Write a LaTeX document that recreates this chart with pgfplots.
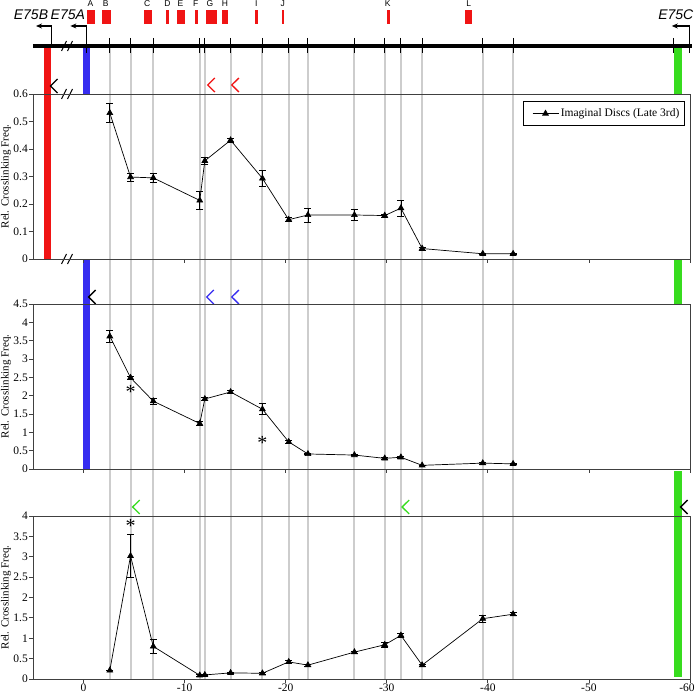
\documentclass[border=0pt]{standalone}
\usepackage{pgfplots}
\pgfplotsset{compat=1.18}
\usepackage{fontspec}
\setmainfont{Liberation Serif}
\newfontfamily\sans{Liberation Sans}
\usetikzlibrary{arrows.meta}

\definecolor{gbar}{RGB}{55,220,30}
\definecolor{bbar}{RGB}{55,45,240}
\definecolor{rbar}{RGB}{240,20,20}
\definecolor{gline}{RGB}{205,205,205}

% panel data: x (kb), relative crosslinking frequency, error
\pgfplotstableread{
x y e
-2.6 0.531 0.035
-4.65 0.298 0.015
-6.9 0.295 0.015
-11.5 0.213 0.032
-12.0 0.357 0.012
-14.55 0.432 0.007
-17.7 0.293 0.03
-20.3 0.143 0.007
-22.2 0.16 0.025
-26.8 0.16 0.02
-29.8 0.158 0.005
-31.4 0.185 0.03
-33.5 0.038 0.005
-39.5 0.019 0.003
-42.5 0.019 0.003
}\tabB
\pgfplotstableread{
x y e
-2.6 3.62 0.16
-4.65 2.49 0.05
-6.9 1.85 0.08
-11.5 1.24 0.05
-12.0 1.91 0.05
-14.55 2.1 0.04
-17.7 1.63 0.15
-20.3 0.74 0.03
-22.2 0.41 0.02
-26.8 0.38 0.02
-29.8 0.29 0.02
-31.4 0.32 0.02
-33.5 0.1 0.01
-39.5 0.16 0.02
-42.5 0.14 0.02
}\tabA
\pgfplotstableread{
x y e
-2.6 0.21 0.01
-4.65 3.02 0.52
-6.9 0.8 0.17
-11.5 0.09 0.02
-12.0 0.1 0.02
-14.55 0.15 0.02
-17.7 0.14 0.02
-20.3 0.42 0.03
-22.2 0.34 0.03
-26.8 0.66 0.03
-29.8 0.84 0.07
-31.4 1.07 0.05
-33.5 0.34 0.02
-39.5 1.48 0.08
-42.5 1.59 0.04
}\tabC

\pgfplotsset{
  panel/.style={scale only axis, width=657pt, xmin=-60, xmax=5, x dir=reverse,
    axis line style={black!75, line width=0.8pt}, tick align=outside,
    xtick pos=bottom, ytick pos=left, xtick={0,-10,-20,-30,-40,-50,-60},
    major tick length=4pt, tick style={black!75, line width=0.8pt},
    ticklabel style={font=\fontsize{11.5}{13}\selectfont},
    yticklabel style={inner xsep=1pt},
    xticklabel style={inner ysep=0.5pt},
    ylabel={Rel. Crosslinking Freq.},
    every axis y label/.style={at={(axis description cs:0,0.5)}, xshift=-27pt,
      rotate=90, anchor=center, font=\fontsize{11}{13}\selectfont}},
  dat/.style={black, line width=0.7pt, mark=triangle*, mark size=3.3pt,
    mark options={solid},
    error bars/.cd, y dir=both, y explicit,
    error bar style={line width=0.7pt},
    error mark options={rotate=90, mark size=3.5pt, line width=0.7pt}},
  chev/.style={line width=1.3pt},
}
\tikzset{astx/.style={font=\fontsize{20}{20}\selectfont, anchor=base, inner sep=0pt}}

\begin{document}
\begin{tikzpicture}

% overlay: gene map, guide lines and coloured bars (y in px from the bottom)
\begin{axis}[scale only axis, width=657pt, height=693pt, at={(0pt,0pt)}, anchor=south west,
  xmin=-60, xmax=5, x dir=reverse, ymin=0, ymax=693, hide axis, clip=false]

\pgfplotsinvokeforeach{-2.6,-4.65,-6.9,-11.5,-12.0,-14.55,-17.7,-20.3,-22.2,-26.8,-29.8,-31.4,-33.5,-39.5,-42.5}{
  \addplot[gline, line width=2pt] coordinates {(#1,647) (#1,14)};
}

% coloured bars
\addplot[fill=rbar, draw=none] coordinates {(3.87,647) (3.17,647) (3.17,434) (3.87,434)} -- cycle;
\addplot[fill=bbar, draw=none] coordinates {(0.1,647) (-0.6,647) (-0.6,599) (0.1,599)} -- cycle;
\addplot[fill=bbar, draw=none] coordinates {(0.1,434) (-0.6,434) (-0.6,224) (0.1,224)} -- cycle;
\addplot[fill=gbar, draw=none] coordinates {(-58.37,647) (-59.17,647) (-59.17,599) (-58.37,599)} -- cycle;
\addplot[fill=gbar, draw=none] coordinates {(-58.37,434) (-59.17,434) (-59.17,389) (-58.37,389)} -- cycle;
\addplot[fill=gbar, draw=none] coordinates {(-58.37,222) (-59.17,222) (-59.17,16) (-58.37,16)} -- cycle;

% gene line and ticks
\addplot[black, line width=4pt] coordinates {(5,647) (-60.2,647)};
\pgfplotsinvokeforeach{-2.6,-4.65,-6.9,-11.5,-12.0,-14.55,-17.7,-20.3,-22.2,-26.8,-29.8,-31.4,-33.5,-39.5,-42.5,-58.37}{
  \addplot[black, line width=1pt] coordinates {(#1,655) (#1,640)};
}

% promoters
\addplot[black, line width=1.2pt, -{Stealth[length=6pt,width=5pt]}] coordinates {(3.17,647) (3.17,667) (4.7,667)};
\addplot[black, line width=1.2pt, -{Stealth[length=6pt,width=5pt]}] coordinates {(-0.27,640) (-0.27,667) (1.3,667)};
\addplot[black, line width=1.2pt, -{Stealth[length=6pt,width=5pt]}] coordinates {(-59.96,640) (-59.96,667) (-58.2,667)};
\node[font=\sans\itshape\fontsize{14}{16}\selectfont] at (axis cs:5.2,678) {E75B};
\node[font=\sans\itshape\fontsize{14}{16}\selectfont] at (axis cs:1.55,678) {E75A};
\node[font=\sans\itshape\fontsize{14}{16}\selectfont] at (axis cs:-58.6,678) {E75C};

% elements A-L
\addplot[fill=rbar, draw=none] coordinates {(-0.30,683) (-1.09,683) (-1.09,669) (-0.30,669)} -- cycle;
\addplot[fill=rbar, draw=none] coordinates {(-1.78,683) (-2.68,683) (-2.68,669) (-1.78,669)} -- cycle;
\addplot[fill=rbar, draw=none] coordinates {(-5.95,683) (-6.74,683) (-6.74,669) (-5.95,669)} -- cycle;
\addplot[fill=rbar, draw=none] coordinates {(-8.13,683) (-8.42,683) (-8.42,669) (-8.13,669)} -- cycle;
\addplot[fill=rbar, draw=none] coordinates {(-9.22,683) (-10.01,683) (-10.01,669) (-9.22,669)} -- cycle;
\addplot[fill=rbar, draw=none] coordinates {(-11.0,683) (-11.3,683) (-11.3,669) (-11.0,669)} -- cycle;
\addplot[fill=rbar, draw=none] coordinates {(-12.09,683) (-13.18,683) (-13.18,669) (-12.09,669)} -- cycle;
\addplot[fill=rbar, draw=none] coordinates {(-13.68,683) (-14.27,683) (-14.27,669) (-13.68,669)} -- cycle;
\addplot[fill=rbar, draw=none] coordinates {(-16.95,683) (-17.24,683) (-17.24,669) (-16.95,669)} -- cycle;
\addplot[fill=rbar, draw=none] coordinates {(-19.62,683) (-19.82,683) (-19.82,669) (-19.62,669)} -- cycle;
\addplot[fill=rbar, draw=none] coordinates {(-30.0,683) (-30.3,683) (-30.3,669) (-30.0,669)} -- cycle;
\addplot[fill=rbar, draw=none] coordinates {(-37.76,683) (-38.45,683) (-38.45,669) (-37.76,669)} -- cycle;
\begin{scope}[every node/.style={font=\sans\fontsize{8.5}{10}\selectfont, anchor=base}]
\node at (axis cs:-0.69,686) {A};
\node at (axis cs:-2.2,686) {B};
\node at (axis cs:-6.3,686) {C};
\node at (axis cs:-8.3,686) {D};
\node at (axis cs:-9.6,686) {E};
\node at (axis cs:-11.1,686) {F};
\node at (axis cs:-12.5,686) {G};
\node at (axis cs:-14.0,686) {H};
\node at (axis cs:-17.1,686) {I};
\node at (axis cs:-19.7,686) {J};
\node at (axis cs:-30.1,686) {K};
\node at (axis cs:-38.1,686) {L};
\end{scope}

% axis breaks
\addplot[black, line width=1pt] coordinates {(2.18,642) (1.68,652)};
\addplot[black, line width=1pt] coordinates {(1.59,642) (1.09,652)};
\addplot[black, line width=1pt] coordinates {(2.18,594) (1.68,604)};
\addplot[black, line width=1pt] coordinates {(1.59,594) (1.09,604)};
\addplot[black, line width=1pt] coordinates {(2.18,429) (1.68,439)};
\addplot[black, line width=1pt] coordinates {(1.59,429) (1.09,439)};

% binding-site chevrons
\addplot[black, chev] coordinates {(2.57,614) (3.27,607) (2.57,600)};
\addplot[rbar, chev] coordinates {(-12.99,615) (-12.29,608) (-12.99,601)};
\addplot[rbar, chev] coordinates {(-15.37,615) (-14.67,608) (-15.37,601)};
\addplot[black, chev] coordinates {(-1.2,403) (-0.5,396) (-1.2,389)};
\addplot[bbar, chev] coordinates {(-12.89,403) (-12.19,396) (-12.89,389)};
\addplot[bbar, chev] coordinates {(-15.37,403) (-14.67,396) (-15.37,389)};
\addplot[gbar, chev] coordinates {(-5.56,193) (-4.86,186) (-5.56,179)};
\addplot[gbar, chev] coordinates {(-32.22,193) (-31.52,186) (-32.22,179)};
\addplot[black, chev] coordinates {(-59.77,193) (-59.07,186) (-59.77,179)};
\end{axis}

% E75B panel
\begin{axis}[panel, at={(0pt,434pt)}, anchor=south west, height=165pt,
  ymin=0, ymax=0.6, ytick={0,0.1,0.2,0.3,0.4,0.5,0.6},
  yticklabels={0,0.1,0.2,0.3,0.4,0.5,0.6}, xticklabels={},
  legend style={at={(0.992,0.958)}, anchor=north east, draw=black, line width=0.8pt,
    font=\fontsize{11.5}{13}\selectfont, inner xsep=3pt, inner ysep=5.5pt},
  legend image code/.code={%
    \path (-6pt,0pt);
    \draw[mark repeat=2, mark phase=2] plot coordinates {(0pt,0pt) (13pt,0pt) (26pt,0pt)};}]
\addplot[dat] table[x=x, y=y, y error=e] {\tabB};
\addlegendentry{Imaginal Discs (Late 3rd)}
\end{axis}

% E75A panel
\begin{axis}[panel, at={(0pt,224pt)}, anchor=south west, height=165pt,
  ymin=0, ymax=4.5, ytick={0,0.5,1,1.5,2,2.5,3,3.5,4,4.5},
  yticklabels={0,0.5,1,1.5,2,2.5,3,3.5,4,4.5}, xticklabels={}]
\addplot[dat] table[x=x, y=y, y error=e] {\tabA};
\node[astx] at (axis cs:-4.65,1.93) {*};
\node[astx] at (axis cs:-17.7,0.52) {*};
\end{axis}

% E75C panel
\begin{axis}[panel, at={(0pt,14pt)}, anchor=south west, height=163pt,
  ymin=0, ymax=4, ytick={0,0.5,1,1.5,2,2.5,3,3.5,4},
  yticklabels={0,0.5,1,1.5,2,2.5,3,3.5,4},
  xticklabels={0,-10,-20,-30,-40,-50,\hspace*{-6pt}-60}]
\addplot[dat] table[x=x, y=y, y error=e] {\tabC};
\node[astx] at (axis cs:-4.65,3.6) {*};
\end{axis}

\pgfresetboundingbox
\path[use as bounding box] (-33pt,0pt) rectangle (663pt,693pt);
\end{tikzpicture}
\end{document}
